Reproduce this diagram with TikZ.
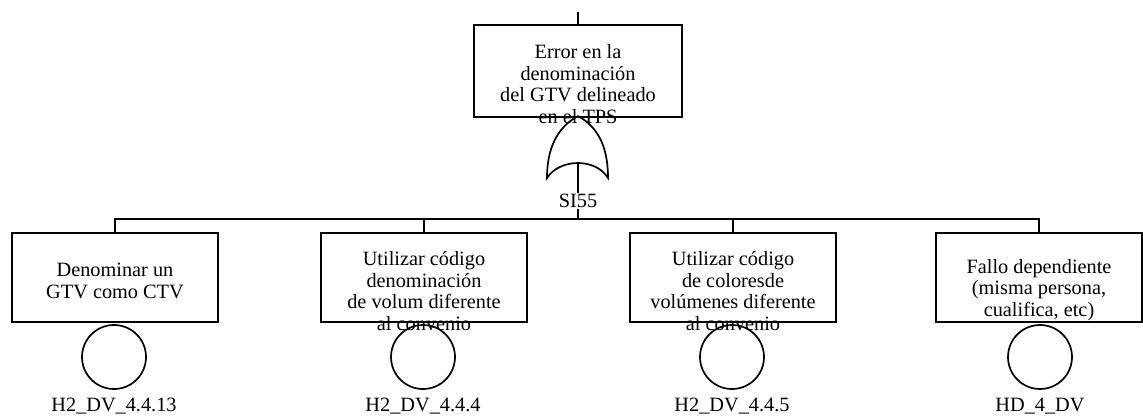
\documentclass[tikz,border=0pt]{standalone}
\usepackage{fontspec}
\setmainfont{Liberation Serif}
\begin{document}
\begin{tikzpicture}[x=1pt,y=-1pt,
  evbox/.style={draw, line width=1.7pt, minimum width=206pt, minimum height=89pt, inner sep=0pt},
  evtext/.style={align=center, inner sep=0pt, font=\fontsize{20.3}{21.7}\selectfont},
  basic/.style={draw, circle, line width=1.7pt, minimum size=64pt, inner sep=0pt},
  lbl/.style={inner sep=1pt, font=\fontsize{20.3}{22}\selectfont},
  conn/.style={line width=1.7pt}]
\useasboundingbox (0,0) rectangle (1143,418);
% top event
\coordinate (topin) at (578,12);
\node[evbox, minimum width=208pt, minimum height=92pt] (top) at (578,71) {};
\node[evtext] (toptext) at (578,84) {Error en la\\denominación\\del GTV delineado\\en el TPS};
\draw[conn] (topin) -- (top.north);
% OR gate
\coordinate (gapex) at (578,116);
\coordinate (gout) at (578,163);
\draw[conn] (gapex) .. controls (556,128) and (547,150) .. (547,178)
  .. controls (560,158) and (596,158) .. (608,178)
  .. controls (608,150) and (600,128) .. (gapex);
\coordinate (j0) at (578,219);
\draw[conn] (gout) -- (j0);
\node[lbl, fill=white] (si) at (578,201) {SI55};
% events
\node[evbox] (b1) at (115,277.5) {};
\node[evbox] (b2) at (424,277.5) {};
\node[evbox] (b3) at (733,277.5) {};
\node[evbox] (b4) at (1039,277.5) {};
\node[evtext] (t1) at (115,281) {Denominar un\\GTV como CTV};
\node[evtext] (t2) at (424,291) {Utilizar código\\denominación\\de volum diferente\\al convenio};
\node[evtext] (t3) at (733,291) {Utilizar código\\de coloresde\\volúmenes diferente\\al convenio};
\node[evtext] (t4) at (1039,290) {Fallo dependiente\\(misma persona,\\cualifica, etc)};
\foreach \b in {b1,b2,b3,b4} \draw[conn] (\b.north) |- (j0);
% basic events
\node[basic] (c1) at (114,357) {};
\node[basic] (c2) at (423,357) {};
\node[basic] (c3) at (732,357) {};
\node[basic] (c4) at (1040,357) {};
\node[lbl] (l1) at (114,406) {H2\_DV\_4.4.13};
\node[lbl] (l2) at (423,406) {H2\_DV\_4.4.4};
\node[lbl] (l3) at (732,406) {H2\_DV\_4.4.5};
\node[lbl] (l4) at (1040,406) {HD\_4\_DV};
\end{tikzpicture}
\end{document}
